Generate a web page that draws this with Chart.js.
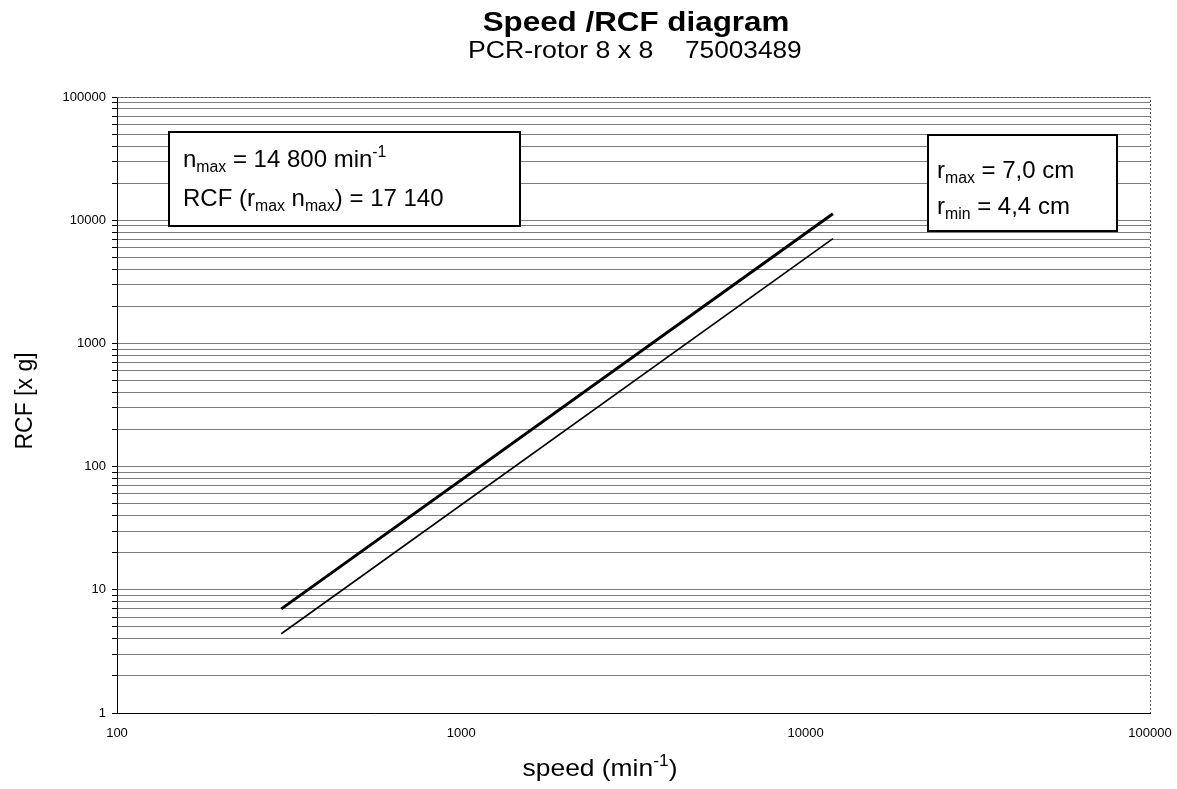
<!DOCTYPE html>
<html>
<head>
<meta charset="utf-8">
<script src="https://cdn.jsdelivr.net/npm/chart.js@4"></script>
<style>
  body { margin: 0; background: #fff; }
  canvas { display: block; }
</style>
</head>
<body>
<canvas id="chart" width="1177" height="789"></canvas>
<script>
// ==================data=================
const speeds = [300, 12000];          // min-1
const rcfRmax = [7.0, 11270];         // r = 7,0 cm
const rcfRmin = [4.4, 7080];          // r = 4,4 cm
const xTickValues = [100, 1000, 10000, 100000];
const yDecades = [1, 10, 100, 1000, 10000];
const yMax = 100000;

const FONT = "'Liberation Sans', Arial, sans-serif";

// text made of pieces: [text, "" | "sub" | "sup"]
function richWidth(ctx, parts, size) {
  let w = 0;
  parts.forEach(function (p) {
    const s = p[1] ? size * 0.66 : size;
    ctx.font = s + "px " + FONT;
    w += ctx.measureText(p[0]).width;
  });
  return w;
}

function drawRich(ctx, parts, x, y, size, sx) {
  sx = sx || 1;
  ctx.save();
  ctx.translate(x, y);
  ctx.scale(sx, 1);
  let cx = 0;
  parts.forEach(function (p) {
    const s = p[1] ? size * 0.66 : size;
    let dy = 0;
    if (p[1] === "sub") dy = size * 0.22;
    if (p[1] === "sup") dy = -size * 0.42;
    ctx.font = s + "px " + FONT;
    ctx.fillText(p[0], cx, dy);
    cx += ctx.measureText(p[0]).width;
  });
  ctx.restore();
}

const decorations = {
  id: "decorations",
  beforeDatasetsDraw(chart) {
    const ctx = chart.ctx;
    const a = chart.chartArea;
    ctx.save();
    ctx.strokeStyle = "#555";
    ctx.lineWidth = 1;
    ctx.setLineDash([2, 2]);
    ctx.beginPath();
    ctx.moveTo(a.left, a.top + 0.5);
    ctx.lineTo(a.right + 0.5, a.top + 0.5);
    ctx.lineTo(a.right + 0.5, a.bottom);
    ctx.stroke();
    ctx.restore();
  },
  afterDraw(chart) {
    const ctx = chart.ctx;
    ctx.save();
    ctx.fillStyle = "#000";
    ctx.textBaseline = "alphabetic";
    ctx.textAlign = "left";

    // title + subtitle (slightly wide lettering as in the scan)
    ctx.save();
    ctx.font = "bold 28px " + FONT;
    ctx.textAlign = "center";
    ctx.translate(636, 31);
    ctx.scale(1.12, 1);
    ctx.fillText("Speed /RCF diagram", 0, 0);
    ctx.restore();

    drawRich(ctx, [["PCR-rotor 8 x 8", ""]], 468, 58, 23, 1.16);
    drawRich(ctx, [["75003489", ""]], 685, 58, 23, 1.14);

    // info boxes
    ctx.lineWidth = 2;
    ctx.strokeStyle = "#000";
    ctx.fillStyle = "#fff";
    ctx.fillRect(169, 132, 351, 94);
    ctx.strokeRect(169, 132, 351, 94);
    ctx.fillRect(928, 135, 189, 96);
    ctx.strokeRect(928, 135, 189, 96);

    ctx.fillStyle = "#000";
    drawRich(ctx, [["n", ""], ["max", "sub"], [" = 14 800 min", ""], ["-1", "sup"]], 183, 167, 24);
    drawRich(ctx, [["RCF (r", ""], ["max", "sub"], [" n", ""], ["max", "sub"], [") = 17 140", ""]], 183, 206, 24);
    drawRich(ctx, [["r", ""], ["max", "sub"], [" = 7,0 cm", ""]], 937, 178, 24);
    drawRich(ctx, [["r", ""], ["min", "sub"], [" = 4,4 cm", ""]], 937, 214, 24);

    // axis titles
    const xt = [["speed (min", ""], ["-1", "sup"], [")", ""]];
    const xw = richWidth(ctx, xt, 24) * 1.1;
    drawRich(ctx, xt, 600 - xw / 2, 776, 24, 1.1);

    ctx.save();
    ctx.translate(32, 401);
    ctx.rotate(-Math.PI / 2);
    ctx.font = "23px " + FONT;
    ctx.textAlign = "center";
    ctx.fillText("RCF [x g]", 0, 0);
    ctx.restore();

    ctx.restore();
  },
};

const ctx = document.getElementById("chart").getContext("2d");
new Chart(ctx, {
  type: "scatter",
  data: {
    datasets: [
      {
        label: "r max",
        data: speeds.map((s, i) => ({ x: s, y: rcfRmax[i] })),
        showLine: true,
        borderColor: "#000",
        borderWidth: 3,
        pointRadius: 0,
      },
      {
        label: "r min",
        data: speeds.map((s, i) => ({ x: s, y: rcfRmin[i] })),
        showLine: true,
        borderColor: "#000",
        borderWidth: 1.6,
        pointRadius: 0,
      },
    ],
  },
  options: {
    responsive: false,
    animation: false,
    layout: { padding: { left: 0, right: 27, top: 97, bottom: 0 } },
    plugins: {
      legend: { display: false },
      tooltip: { enabled: false },
    },
    scales: {
      x: {
        type: "logarithmic",
        min: 100,
        max: 100000,
        afterBuildTicks: function (scale) {
          scale.ticks = xTickValues.map((v) => ({ value: v }));
        },
        afterFit: function (scale) {
          scale.height = 76;
          scale.paddingLeft = 0;
          scale.paddingRight = 0;
        },
        grid: { display: false },
        border: { display: true, color: "#000", width: 1 },
        ticks: {
          autoSkip: false,
          maxRotation: 0,
          padding: 5,
          color: "#000",
          font: { family: FONT, size: 13 },
          callback: (v) => String(v),
        },
      },
      y: {
        type: "logarithmic",
        min: 1,
        max: yMax,
        afterBuildTicks: function (scale) {
          const t = [];
          yDecades.forEach(function (d) {
            for (let k = 1; k < 10; k++) t.push({ value: d * k });
          });
          t.push({ value: yMax });
          scale.ticks = t;
        },
        afterFit: function (scale) {
          scale.width = 117;
        },
        grid: {
          color: "#7c7c7c",
          lineWidth: 1,
          tickLength: 5,
          tickColor: "#000",
        },
        border: { display: true, color: "#000", width: 1 },
        ticks: {
          autoSkip: false,
          padding: 6,
          color: "#000",
          font: { family: FONT, size: 13 },
          callback: function (v) {
            const l = Math.log10(v);
            return Math.abs(l - Math.round(l)) < 1e-9 ? String(v) : "";
          },
        },
      },
    },
  },
  plugins: [decorations],
});
</script>
</body>
</html>
